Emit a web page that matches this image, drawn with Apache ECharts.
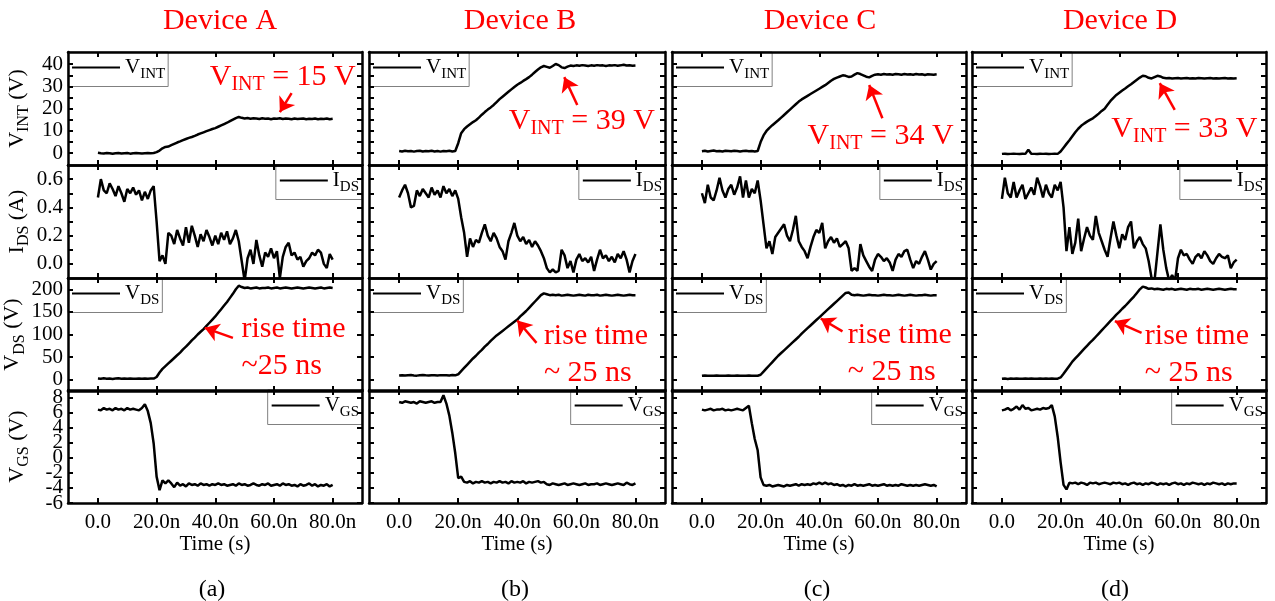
<!DOCTYPE html>
<html>
<head>
<meta charset="utf-8">
<title>Switching waveforms, devices A-D</title>
<script src="https://cdn.jsdelivr.net/npm/echarts@6/dist/echarts.min.js"></script>
<style>
  html, body { margin: 0; padding: 0; background: #fff; }
  #chart { width: 1275px; height: 601px; }
</style>
</head>
<body>
<div id="chart"></div>
<script>
// time base, ns
const time = [0,1,2,3,4,5,6,7,8,9,10,11,12,13,14,15,16,17,18,19,20,21,22,23,24,25,26,27,28,29,30,31,32,33,34,35,36,37,38,39,40,41,42,43,44,45,46,47,48,49,50,51,52,53,54,55,56,57,58,59,60,61,62,63,64,65,66,67,68,69,70,71,72,73,74,75,76,77,78,79,80];
const timeTicks = [0, 20, 40, 60, 80];
const timeTickLabels = ['0.0', '20.0n', '40.0n', '60.0n', '80.0n'];

const devices = ['Device A', 'Device B', 'Device C', 'Device D'];
const panelTags = ['(a)', '(b)', '(c)', '(d)'];

const vintTicks = [0, 5, 10, 15, 20, 25, 30, 35, 40];
const vintLabels = [0, 10, 20, 30, 40];
const idsTicks = [0, 0.1, 0.2, 0.3, 0.4, 0.5, 0.6];
const idsLabels = [0, 0.2, 0.4, 0.6];
const vdsTicks = [0, 50, 100, 150, 200];
const vgsTicks = [-6, -4, -2, 0, 2, 4, 6, 8];

const vintNotes = ['15 V', '39 V', '34 V', '33 V'];
const riseNotes = ['~25 ns', '~ 25 ns', '~ 25 ns', '~ 25 ns'];

// V_INT (V)
const vintA = [0.2,0.0,-0.1,0.1,0.0,-0.2,0.0,0.1,-0.1,0.0,0.1,-0.2,0.0,0.1,0.0,-0.1,0.0,0.1,0.0,0.1,
  0.5,1.2,2.2,2.8,3.0,3.6,4.2,4.8,5.3,5.9,6.4,6.9,7.3,7.8,8.4,8.9,9.4,9.9,10.4,10.9,
  11.3,11.9,12.5,13.1,13.7,14.4,15.1,15.8,16.3,15.9,15.6,15.8,15.5,15.7,15.6,15.4,15.7,15.5,15.6,15.3,
  15.6,15.5,15.7,15.4,15.6,15.5,15.3,15.6,15.4,15.5,15.6,15.3,15.5,15.4,15.6,15.3,15.5,15.4,15.6,15.3,15.5];
const vintB = [1.0,0.8,1.1,0.9,1.0,0.7,1.0,1.1,0.8,1.0,0.9,1.1,0.8,1.0,0.7,1.0,0.9,1.1,0.8,1.0,
  4.5,9.0,10.8,12.0,13.0,14.0,14.8,16.0,17.3,18.5,19.6,20.6,21.7,23.0,24.3,25.4,26.5,27.6,28.7,29.8,
  30.8,31.6,32.5,33.3,34.2,35.3,36.5,37.6,38.6,39.2,38.8,38.4,39.2,40.1,39.6,38.6,38.3,38.9,39.4,39.2,
  39.5,39.3,39.6,39.4,39.2,39.5,39.3,39.6,39.4,39.5,39.2,39.5,39.4,39.6,39.3,39.5,39.8,39.4,39.5,39.3,39.4];
const vintC = [0.9,1.1,0.8,1.0,1.2,0.9,1.0,0.8,1.1,1.0,0.9,1.1,1.0,0.8,1.0,1.1,0.9,1.0,0.8,1.0,
  5.0,8.0,10.0,11.4,12.6,13.7,14.8,16.0,17.2,18.4,19.6,20.8,22.0,23.2,24.2,25.0,25.8,26.6,27.4,28.2,
  29.0,29.8,30.6,31.6,32.6,33.4,34.0,34.5,35.0,34.8,34.3,34.5,35.3,36.0,35.6,35.0,34.4,34.1,34.8,35.3,
  35.5,35.3,35.6,35.4,35.5,35.3,35.6,35.5,35.3,35.6,35.4,35.5,35.3,35.6,35.4,35.5,35.2,35.5,35.4,35.3,35.5];
const vintD = [-0.3,-0.2,-0.4,-0.3,-0.2,-0.3,-0.4,-0.2,-0.3,1.6,-0.2,-0.3,-0.4,-0.2,-0.3,-0.2,-0.4,-0.3,-0.2,-0.3,
  0.8,2.5,4.2,5.8,7.6,9.4,11.0,12.3,13.3,14.2,15.0,15.7,16.7,17.8,19.0,20.0,21.8,23.5,24.9,26.2,
  27.2,28.2,29.1,30.1,31.0,32.0,33.0,34.0,34.8,34.6,33.9,33.6,34.2,34.8,34.5,33.9,33.7,33.8,33.6,33.7,
  33.8,33.6,33.7,33.8,33.6,33.7,33.6,33.8,33.7,33.6,33.7,33.8,33.6,33.7,33.6,33.7,33.8,33.6,33.7,33.6,33.7];

// I_DS (A)
const idsA = [0.47,0.60,0.52,0.50,0.57,0.53,0.48,0.55,0.50,0.44,
  0.53,0.50,0.54,0.49,0.52,0.45,0.51,0.46,0.52,0.55,
  0.30,0.02,0.06,0.00,0.22,0.20,0.14,0.24,0.18,0.13,
  0.26,0.15,0.27,0.20,0.12,0.21,0.16,0.24,0.19,0.13,
  0.20,0.14,0.22,0.17,0.23,0.14,0.18,0.24,0.16,0.02,
  -0.12,0.04,0.10,0.00,0.17,0.06,-0.02,0.08,0.05,0.11,
  0.04,0.09,-0.10,0.05,0.12,0.15,0.06,0.08,0.03,0.05,
  -0.02,0.02,0.04,0.08,0.06,0.10,0.08,0.00,-0.03,0.07,0.03];
const idsB = [0.47,0.52,0.56,0.50,0.40,0.41,0.52,0.48,0.53,0.50,
  0.47,0.54,0.49,0.52,0.47,0.55,0.50,0.53,0.48,0.52,
  0.46,0.33,0.22,0.05,0.18,0.12,0.17,0.15,0.22,0.28,
  0.20,0.16,0.22,0.18,0.12,0.09,0.03,0.16,0.22,0.29,
  0.20,0.16,0.19,0.14,0.17,0.12,0.16,0.13,0.09,0.04,
  -0.03,-0.06,-0.04,-0.06,-0.05,0.10,0.06,-0.03,0.02,-0.06,
  0.03,0.07,0.02,0.04,0.01,0.05,-0.05,0.03,0.10,0.04,
  0.06,0.02,0.05,0.01,0.07,0.04,0.09,0.03,-0.06,0.02,0.07];
const idsC = [0.50,0.43,0.56,0.47,0.45,0.52,0.61,0.52,0.47,0.53,
  0.56,0.49,0.54,0.62,0.47,0.59,0.47,0.53,0.50,0.59,
  0.45,0.28,0.11,0.16,0.07,0.19,0.22,0.25,0.28,0.20,
  0.16,0.24,0.34,0.16,0.12,0.09,0.04,0.12,0.19,0.24,
  0.22,0.29,0.11,0.16,0.19,0.15,0.18,0.12,0.14,0.16,
  0.11,-0.05,-0.03,-0.05,0.14,0.06,0.02,-0.02,-0.05,0.03,
  0.07,0.05,0.02,0.04,0.01,-0.05,0.03,0.07,0.05,0.09,
  0.10,0.03,-0.03,0.02,0.00,0.05,0.09,0.03,-0.04,0.00,0.02];
const idsD = [0.46,0.61,0.50,0.47,0.58,0.47,0.52,0.56,0.46,0.50,
  0.54,0.49,0.61,0.55,0.47,0.56,0.50,0.47,0.56,0.52,
  0.58,0.40,0.09,0.26,0.07,0.15,0.32,0.09,0.18,0.26,
  0.20,0.17,0.34,0.22,0.16,0.10,0.05,0.18,0.30,0.20,
  0.11,0.21,0.17,0.26,0.30,0.11,0.16,0.19,0.14,0.11,
  0.02,-0.10,-0.12,0.08,0.28,0.10,-0.03,-0.12,-0.08,-0.12,
  0.04,0.10,0.06,0.07,0.03,0.00,0.05,0.07,0.04,0.09,
  0.06,0.02,0.00,0.04,0.07,0.05,0.04,0.06,-0.03,0.01,0.03];

// V_DS (V)
const vdsA = [2.5,2.0,3.0,2.2,2.6,1.8,2.4,3.0,2.1,2.5,2.0,2.8,2.3,1.9,2.6,2.2,2.9,2.0,2.4,2.6,
  6,16,24,30,36,42,48,54,60,67,73,80,87,93,100,106,112,119,126,133,
  140,148,156,164,172,181,190,200,208,205,203,204,202,203,204,202,203,203,204,202,
  203,204,202,203,204,203,202,203,204,203,202,203,204,203,202,203,204,202,203,204,203];
const vdsB = [9.5,10.0,9.2,9.8,10.3,9.5,9.0,9.8,10.2,9.6,9.3,10.0,9.7,9.2,10.1,9.6,9.9,9.4,10.2,9.7,
  12,19,26,33,40,47,53,60,66,73,79,86,92,98,103,108,113,118,123,128,
  133,140,146,152,159,166,173,180,187,191,189,187,188,187,188,186,187,188,187,186,
  187,188,187,186,188,187,187,188,186,187,188,187,186,187,188,187,186,187,188,187,187];
const vdsC = [8.8,9.2,8.5,9.0,8.7,9.3,8.6,9.0,8.8,9.4,8.5,8.9,9.1,8.6,9.0,8.8,9.2,8.5,9.0,8.8,
  11,18,25,32,39,46,53,59,65,71,77,83,89,95,102,108,114,120,126,132,
  138,144,150,156,162,168,174,180,186,192,193,188,187,188,187,186,187,188,187,187,
  186,187,188,187,187,186,187,188,187,186,187,188,187,186,187,187,188,187,186,187,187];
const vdsD = [2.2,2.6,1.8,2.4,2.0,2.8,2.2,1.9,2.5,2.1,2.7,2.0,2.3,2.6,1.9,2.4,2.2,2.8,2.0,2.3,
  5,13,22,31,40,47,54,61,68,75,82,88,95,102,109,116,123,130,137,144,
  150,157,163,170,177,184,192,200,206,204,201,202,200,201,200,199,201,200,201,199,
  200,201,200,199,201,200,200,201,199,200,201,200,199,200,201,200,199,200,201,200,200];

// V_GS (V)
const vgsA = [6.4,6.3,6.6,6.4,6.5,6.3,6.6,6.4,6.5,6.3,6.6,6.4,6.5,6.4,6.3,6.6,
  7.1,6.2,4.6,1.9,-2.5,-4.3,-3.0,-3.4,-3.0,-3.4,-3.9,-3.3,-3.7,-3.5,-3.8,-3.4,-3.6,-3.5,-3.7,-3.4,
  -3.6,-3.5,-3.7,-3.5,-3.6,-3.4,-3.6,-3.5,-3.7,-3.6,-3.5,-3.7,-3.4,-3.6,-3.5,-3.7,-3.6,-3.4,-3.6,-3.7,
  -3.5,-3.6,-3.4,-3.7,-3.6,-3.5,-3.7,-3.4,-3.6,-3.5,-3.7,-3.6,-3.8,-3.5,-3.7,-3.6,-3.4,-3.7,-3.5,-3.8,
  -3.6,-3.7,-3.5,-3.8,-3.6];
const vgsB = [7.4,7.3,7.5,7.4,7.3,7.4,7.2,7.5,7.4,7.3,7.4,7.5,7.3,7.4,7.4,8.3,
  7.2,5.6,3.3,0.6,-2.7,-2.5,-3.2,-3.3,-3.1,-3.4,-3.2,-3.3,-3.1,-3.3,-3.2,-3.4,-3.2,-3.3,-3.1,-3.3,
  -3.2,-3.4,-3.1,-3.3,-3.2,-3.3,-3.1,-3.4,-3.2,-3.3,-3.2,-3.1,-3.3,-3.2,-3.5,-3.6,-3.4,-3.5,-3.6,-3.5,
  -3.4,-3.6,-3.5,-3.4,-3.5,-3.6,-3.5,-3.4,-3.6,-3.5,-3.5,-3.4,-3.6,-3.5,-3.4,-3.5,-3.6,-3.5,-3.4,-3.5,
  -3.6,-3.3,-3.5,-3.6,-3.4];
const vgsC = [6.4,6.3,6.4,6.5,6.3,6.4,6.4,6.5,6.3,6.4,6.3,6.4,6.5,6.4,6.3,6.6,
  6.9,4.6,2.5,1.0,-2.6,-3.6,-3.7,-3.6,-3.8,-3.7,-3.6,-3.7,-3.8,-3.6,-3.7,-3.6,-3.5,-3.7,-3.5,-3.6,
  -3.5,-3.6,-3.4,-3.5,-3.3,-3.5,-3.3,-3.5,-3.4,-3.6,-3.5,-3.7,-3.6,-3.8,-3.6,-3.7,-3.5,-3.7,-3.6,-3.7,
  -3.6,-3.5,-3.7,-3.6,-3.7,-3.6,-3.5,-3.7,-3.6,-3.7,-3.6,-3.7,-3.5,-3.6,-3.7,-3.6,-3.7,-3.6,-3.7,-3.6,
  -3.5,-3.6,-3.7,-3.6,-3.8];
const vgsD = [6.3,6.4,6.6,6.3,6.5,6.8,6.4,7.0,6.5,6.6,6.3,6.4,6.5,6.4,6.6,6.5,
  6.6,7.0,5.5,2.8,-0.6,-3.6,-4.2,-3.3,-3.4,-3.3,-3.5,-3.3,-3.4,-3.6,-3.3,-3.4,-3.3,-3.5,-3.4,-3.3,
  -3.4,-3.5,-3.3,-3.4,-3.3,-3.5,-3.4,-3.6,-3.4,-3.3,-3.5,-3.4,-3.6,-3.4,-3.5,-3.3,-3.4,-3.6,-3.4,-3.5,
  -3.4,-3.6,-3.4,-3.3,-3.5,-3.4,-3.6,-3.4,-3.5,-3.3,-3.4,-3.5,-3.4,-3.6,-3.4,-3.5,-3.3,-3.4,-3.5,-3.4,
  -3.6,-3.4,-3.5,-3.4,-3.4];

const FONT = '"Liberation Serif", "Times New Roman", serif';
const RED = '#ff0000';

// panel layout (px)
const colLeft = [68, 369, 672, 972];
const colWidth = [294, 296, 294, 294];
const rowTop = [52, 165, 278, 390];
const rowHeight = 113;
const titleCenter = [220, 520, 820, 1120];
const tagCenter = [212, 515, 817, 1115];

// annotation anchors in data units of each panel
const vintNoteAt = [[38.1, 34.3], [37.1, 14.5], [36.0, 7.9], [37.3, 10.9]];
const vintArrow = [[[66, 27], [62, 18.5]], [[60.3, 21.7], [55.9, 34.2]], [[61.5, 15.7], [57, 30.7]], [[58.9, 19.5], [53.8, 31.5]]];
const riseNoteAt = [[48.9, 70.9], [49, 55.5], [49.7, 57.8], [48.7, 55.5]];
const riseArrow = [[[46, 92.4], [36.4, 114.7]], [[46.5, 81.4], [40, 131]], [[47.9, 107], [40.5, 135.5]], [[47.6, 103.6], [38.5, 129.6]]];

const rows = [
  { key: 'VINT', main: 'V', sub: 'INT', unit: 'V', values: [vintA, vintB, vintC, vintD], min: -5.3, max: 45.5, ticks: vintTicks, labels: vintLabels, digits: 0, legendRight: false },
  { key: 'IDS', main: 'I', sub: 'DS', unit: 'A', values: [idsA, idsB, idsC, idsD], min: -0.1, max: 0.7, ticks: idsTicks, labels: idsLabels, digits: 1, legendRight: true },
  { key: 'VDS', main: 'V', sub: 'DS', unit: 'V', values: [vdsA, vdsB, vdsC, vdsD], min: -25, max: 225, ticks: vdsTicks, labels: vdsTicks, digits: 0, legendRight: false },
  { key: 'VGS', main: 'V', sub: 'GS', unit: 'V', values: [vgsA, vgsB, vgsC, vgsD], min: -6, max: 9, ticks: vgsTicks, labels: vgsTicks, digits: 0, legendRight: true }
];

const subRich = (size, subSize, lh, subLh, color) => ({
  m: { fontFamily: FONT, fontSize: size, lineHeight: lh, color: color },
  s: { fontFamily: FONT, fontSize: subSize, lineHeight: subLh, verticalAlign: 'bottom', color: color }
});

const axisLine = { onZero: false, lineStyle: { color: '#000', width: 2.5 } };
const tickStyle = { color: '#000', width: 2 };

function makeX(g, position, withLabels) {
  return {
    gridIndex: g, type: 'value', position: position, min: -10.2, max: 90, z: 5,
    axisLine: axisLine,
    axisTick: { inside: true, length: 5, customValues: timeTicks, lineStyle: tickStyle },
    axisLabel: {
      show: withLabels, customValues: timeTicks, margin: 9, color: '#000', fontFamily: FONT, fontSize: 21,
      showMinLabel: true, showMaxLabel: true,
      formatter: (v) => timeTickLabels[timeTicks.indexOf(v)]
    },
    splitLine: { show: false },
    name: withLabels ? 'Time (s)' : '', nameLocation: 'middle', nameGap: 30,
    nameTextStyle: { color: '#000', fontFamily: FONT, fontSize: 21 }
  };
}

function makeY(g, row, position) {
  return {
    gridIndex: g, type: 'value', position: position, min: row.min, max: row.max, z: 5,
    axisLine: axisLine,
    axisTick: { inside: true, length: 5, customValues: row.ticks, lineStyle: tickStyle },
    axisLabel: { show: false },
    splitLine: { show: false }
  };
}

// tick labels of the left column; split over two overlaid axes so that
// the tightly packed labels are never dropped as overlapping
function makeYLabels(g, row, part) {
  return {
    gridIndex: g, type: 'value', position: 'left', min: row.min, max: row.max, z: 5,
    axisLine: { show: false }, axisTick: { show: false }, splitLine: { show: false },
    axisLabel: {
      show: true, customValues: row.labels.filter((v, i) => i % 2 === part),
      margin: 5, color: '#000', fontFamily: FONT, fontSize: 21,
      showMinLabel: true, showMaxLabel: true,
      formatter: (v) => v.toFixed(row.digits)
    },
    name: part === 0 ? `{m|${row.main}}{s|${row.sub}}{m| (${row.unit})}` : '',
    nameLocation: 'middle', nameRotate: 90, nameGap: 36,
    nameTextStyle: { color: '#000', fontFamily: FONT, fontSize: 22, rich: subRich(22, 16, 30, 14, '#000') }
  };
}

function arrowMark(seg) {
  return {
    silent: true, animation: false,
    symbol: ['none', 'arrow'], symbolSize: 14,
    label: { show: false },
    lineStyle: { color: RED, width: 2.5, type: 'solid' },
    itemStyle: { color: RED },
    emphasis: { disabled: true },
    data: [[{ coord: seg[0] }, { coord: seg[1] }]]
  };
}

function noteMark(at, text) {
  return {
    silent: true, animation: false, symbol: 'circle', symbolSize: 0,
    data: [{ coord: at }],
    label: {
      show: true, position: 'right', distance: 0, formatter: text,
      color: RED, fontFamily: FONT, fontSize: 30, lineHeight: 37,
      rich: subRich(30, 20, 36, 18, RED)
    }
  };
}

const grid = [], xAxis = [], yAxis = [], series = [], legend = [], title = [];

rows.forEach((row, r) => {
  devices.forEach((dev, c) => {
    const g = grid.length;
    grid.push({ left: colLeft[c], top: rowTop[r], width: colWidth[c], height: rowHeight });
    const xi = xAxis.length;
    const yi = yAxis.length;
    xAxis.push(makeX(g, 'bottom', r === rows.length - 1));
    xAxis.push(makeX(g, 'top', false));
    yAxis.push(makeY(g, row, 'left'));
    yAxis.push(makeY(g, row, 'right'));
    if (c === 0) {
      yAxis.push(makeYLabels(g, row, 0));
      yAxis.push(makeYLabels(g, row, 1));
    }

    const name = dev + ' ' + row.key;
    const s = {
      type: 'line', name: name, xAxisIndex: xi, yAxisIndex: yi,
      data: time.map((t, i) => [t, row.values[c][i]]),
      symbol: 'none', showSymbol: false, animation: false, silent: true,
      lineStyle: { color: '#000', width: 2.5 }, itemStyle: { color: '#000' }
    };
    if (r === 0) {
      s.markLine = arrowMark(vintArrow[c]);
      s.markPoint = noteMark(vintNoteAt[c], `{m|V}{s|INT}{m| = ${vintNotes[c]}}`);
    }
    if (r === 2) {
      s.markLine = arrowMark(riseArrow[c]);
      s.markPoint = noteMark(riseNoteAt[c], 'rise time\n' + riseNotes[c]);
    }
    series.push(s);

    const lg = {
      data: [name], top: rowTop[r], orient: 'horizontal',
      padding: [5, 3, 5, 4], itemWidth: 48, itemHeight: 2, icon: 'rect', selectedMode: false, z: 1,
      borderColor: '#808080', borderWidth: 1, borderRadius: 0,
      formatter: () => `{m|${row.main}}{s|${row.sub}}`,
      textStyle: { color: '#000', fontFamily: FONT, fontSize: 21, rich: subRich(21, 15, 28, 12, '#000') }
    };
    if (row.legendRight) lg.right = 1275 - (colLeft[c] + colWidth[c]);
    else lg.left = colLeft[c];
    legend.push(lg);
  });
});

devices.forEach((d, c) => title.push({
  text: d, left: titleCenter[c], top: 6, textAlign: 'center', padding: 0,
  textStyle: { color: RED, fontFamily: FONT, fontSize: 30, fontWeight: 'normal' }
}));
panelTags.forEach((p, c) => title.push({
  text: p, left: tagCenter[c], top: 578, textAlign: 'center', padding: 0,
  textStyle: { color: '#000', fontFamily: FONT, fontSize: 24, fontWeight: 'normal' }
}));

const chart = echarts.init(document.getElementById('chart'), null, { renderer: 'canvas' });
chart.setOption({
  backgroundColor: '#fff',
  animation: false,
  textStyle: { fontFamily: FONT },
  title: title,
  legend: legend,
  grid: grid,
  xAxis: xAxis,
  yAxis: yAxis,
  series: series
});
</script>
</body>
</html>
